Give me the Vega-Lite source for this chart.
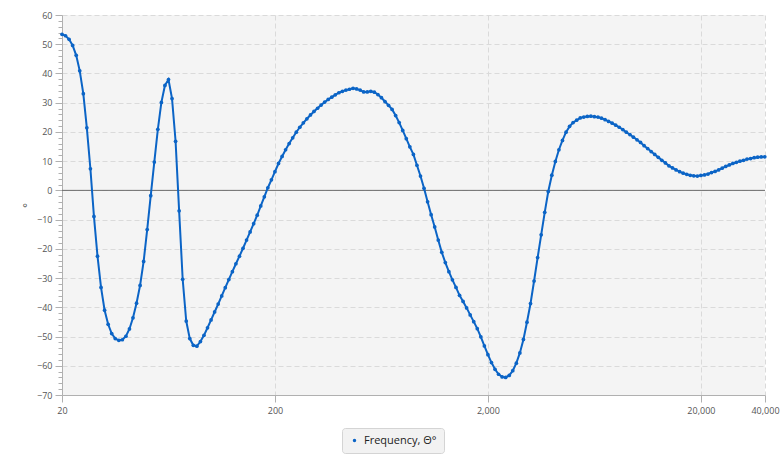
{
  "$schema": "https://vega.github.io/schema/vega-lite/v6.json",
  "width": 703,
  "height": 380,
  "autosize": {"type": "none"},
  "padding": {"left": 62, "top": 15, "right": 15, "bottom": 67},
  "background": "white",
  "config": {
    "view": {"fill": "#f4f4f4", "stroke": null},
    "font": "Open Sans",
    "axis": {
      "labelFont": "Open Sans",
      "labelFontSize": 9,
      "labelColor": "#555555",
      "domainColor": "#b0b0b0",
      "tickColor": "#b0b0b0",
      "gridColor": "#dadada",
      "gridDash": [5, 3]
    }
  },
  "data": {
    "values": [
      {"f": 20, "v": 53.4}, {"f": 20.78, "v": 52.9}, {"f": 21.6, "v": 51.7}, {"f": 22.44, "v": 49.6},
      {"f": 23.32, "v": 46.2}, {"f": 24.23, "v": 40.9}, {"f": 25.18, "v": 33.1}, {"f": 26.16, "v": 21.4},
      {"f": 27.19, "v": 7.4}, {"f": 28.25, "v": -8.9}, {"f": 29.36, "v": -22.5}, {"f": 30.5, "v": -33.2},
      {"f": 31.7, "v": -41.0}, {"f": 32.94, "v": -45.8}, {"f": 34.23, "v": -49.0}, {"f": 35.57, "v": -50.7},
      {"f": 36.96, "v": -51.3}, {"f": 38.4, "v": -51.1}, {"f": 39.91, "v": -49.9}, {"f": 41.47, "v": -47.4},
      {"f": 43.09, "v": -43.6}, {"f": 44.77, "v": -38.6}, {"f": 46.53, "v": -32.5}, {"f": 48.35, "v": -24.3},
      {"f": 50.24, "v": -13.4}, {"f": 52.2, "v": -1.8}, {"f": 54.25, "v": 9.7}, {"f": 56.37, "v": 20.9},
      {"f": 58.57, "v": 30.1}, {"f": 60.86, "v": 35.9}, {"f": 63.25, "v": 37.9}, {"f": 65.72, "v": 31.4},
      {"f": 68.29, "v": 16.8}, {"f": 70.96, "v": -7.0}, {"f": 73.74, "v": -30.4}, {"f": 76.62, "v": -44.7},
      {"f": 79.62, "v": -50.7}, {"f": 82.74, "v": -53.0}, {"f": 85.97, "v": -53.3}, {"f": 89.34, "v": -51.7},
      {"f": 92.83, "v": -49.6}, {"f": 96.46, "v": -47.0}, {"f": 100.24, "v": -44.3}, {"f": 104.16, "v": -41.6},
      {"f": 108.23, "v": -38.9}, {"f": 112.47, "v": -36.1}, {"f": 116.87, "v": -33.3}, {"f": 121.44, "v": -30.5},
      {"f": 126.19, "v": -27.8}, {"f": 131.13, "v": -25.1}, {"f": 136.26, "v": -22.5}, {"f": 141.59, "v": -19.8},
      {"f": 147.13, "v": -17.0}, {"f": 152.89, "v": -14.2}, {"f": 158.87, "v": -11.4}, {"f": 165.08, "v": -8.5},
      {"f": 171.54, "v": -5.3}, {"f": 178.25, "v": -2.2}, {"f": 185.22, "v": 0.9}, {"f": 192.47, "v": 3.6},
      {"f": 200, "v": 6.4}, {"f": 207.8, "v": 9.2}, {"f": 216, "v": 11.6}, {"f": 224.4, "v": 13.9},
      {"f": 233.2, "v": 16.0}, {"f": 242.3, "v": 18.0}, {"f": 251.8, "v": 19.9}, {"f": 261.6, "v": 21.6},
      {"f": 271.9, "v": 23.1}, {"f": 282.5, "v": 24.5}, {"f": 293.6, "v": 25.8}, {"f": 305, "v": 27.0},
      {"f": 317, "v": 28.1}, {"f": 329.4, "v": 29.2}, {"f": 342.3, "v": 30.2}, {"f": 355.7, "v": 31.1},
      {"f": 369.6, "v": 31.9}, {"f": 384, "v": 32.7}, {"f": 399.1, "v": 33.4}, {"f": 414.7, "v": 33.9},
      {"f": 430.9, "v": 34.3}, {"f": 447.7, "v": 34.6}, {"f": 465.3, "v": 34.9}, {"f": 483.5, "v": 34.7},
      {"f": 502.4, "v": 34.3}, {"f": 522, "v": 33.7}, {"f": 542.5, "v": 33.7}, {"f": 563.7, "v": 33.9},
      {"f": 585.7, "v": 33.6}, {"f": 608.6, "v": 32.8}, {"f": 632.5, "v": 31.7}, {"f": 657.2, "v": 30.4},
      {"f": 682.9, "v": 29.1}, {"f": 709.6, "v": 27.7}, {"f": 737.4, "v": 25.6}, {"f": 766.2, "v": 23.2},
      {"f": 796.2, "v": 20.5}, {"f": 827.4, "v": 17.7}, {"f": 859.7, "v": 14.9}, {"f": 893.4, "v": 12.3},
      {"f": 928.3, "v": 8.6}, {"f": 964.6, "v": 4.9}, {"f": 1002.4, "v": 0.7}, {"f": 1041.6, "v": -3.9},
      {"f": 1082.3, "v": -8.3}, {"f": 1124.7, "v": -12.5}, {"f": 1168.7, "v": -17.0}, {"f": 1214.4, "v": -21.2},
      {"f": 1261.9, "v": -24.7}, {"f": 1311.3, "v": -27.8}, {"f": 1362.6, "v": -30.6}, {"f": 1415.9, "v": -33.2},
      {"f": 1471.3, "v": -35.9}, {"f": 1528.9, "v": -38.0}, {"f": 1588.7, "v": -40.2}, {"f": 1650.8, "v": -42.6},
      {"f": 1715.4, "v": -44.9}, {"f": 1782.5, "v": -47.3}, {"f": 1852.2, "v": -50.1}, {"f": 1924.7, "v": -53.2},
      {"f": 2000, "v": -56.2}, {"f": 2078, "v": -58.9}, {"f": 2160, "v": -61.2}, {"f": 2244, "v": -62.9},
      {"f": 2332, "v": -63.8}, {"f": 2423, "v": -64.0}, {"f": 2518, "v": -63.3}, {"f": 2616, "v": -61.7},
      {"f": 2719, "v": -59.1}, {"f": 2825, "v": -55.6}, {"f": 2936, "v": -51.0}, {"f": 3050, "v": -45.1},
      {"f": 3170, "v": -38.7}, {"f": 3294, "v": -31.0}, {"f": 3423, "v": -23.0}, {"f": 3557, "v": -15.2},
      {"f": 3696, "v": -7.5}, {"f": 3840, "v": -0.4}, {"f": 3991, "v": 5.2}, {"f": 4147, "v": 9.9},
      {"f": 4309, "v": 13.9}, {"f": 4477, "v": 17.1}, {"f": 4653, "v": 19.9}, {"f": 4835, "v": 21.9},
      {"f": 5024, "v": 23.2}, {"f": 5220, "v": 24.0}, {"f": 5425, "v": 24.8}, {"f": 5637, "v": 25.1},
      {"f": 5857, "v": 25.3}, {"f": 6086, "v": 25.4}, {"f": 6325, "v": 25.2}, {"f": 6572, "v": 25.1},
      {"f": 6829, "v": 24.7}, {"f": 7096, "v": 24.2}, {"f": 7374, "v": 23.6}, {"f": 7662, "v": 23.0},
      {"f": 7962, "v": 22.3}, {"f": 8274, "v": 21.6}, {"f": 8597, "v": 20.8}, {"f": 8934, "v": 19.9},
      {"f": 9283, "v": 19.1}, {"f": 9646, "v": 18.2}, {"f": 10024, "v": 17.3}, {"f": 10416, "v": 16.4},
      {"f": 10823, "v": 15.3}, {"f": 11247, "v": 14.3}, {"f": 11687, "v": 13.3}, {"f": 12144, "v": 12.3},
      {"f": 12619, "v": 11.3}, {"f": 13113, "v": 10.3}, {"f": 13626, "v": 9.4}, {"f": 14159, "v": 8.4},
      {"f": 14713, "v": 7.7}, {"f": 15289, "v": 7.0}, {"f": 15887, "v": 6.4}, {"f": 16508, "v": 5.9},
      {"f": 17154, "v": 5.5}, {"f": 17825, "v": 5.15}, {"f": 18522, "v": 5.0}, {"f": 19247, "v": 4.9},
      {"f": 20000, "v": 5.1}, {"f": 20782, "v": 5.3}, {"f": 21596, "v": 5.6}, {"f": 22440, "v": 6.1},
      {"f": 23318, "v": 6.5}, {"f": 24230, "v": 7.0}, {"f": 25178, "v": 7.6}, {"f": 26164, "v": 8.2},
      {"f": 27188, "v": 8.7}, {"f": 28250, "v": 9.2}, {"f": 29356, "v": 9.6}, {"f": 30504, "v": 10.0},
      {"f": 31698, "v": 10.3}, {"f": 32938, "v": 10.7}, {"f": 34226, "v": 10.9}, {"f": 35566, "v": 11.2},
      {"f": 36956, "v": 11.35}, {"f": 38402, "v": 11.45}, {"f": 39906, "v": 11.5}
    ]
  },
  "layer": [
    {
      "data": {"values": [{"zero": 0}]},
      "mark": {"type": "rule", "color": "#6b6b6b", "strokeWidth": 1},
      "encoding": {
        "y": {
          "field": "zero",
          "type": "quantitative",
          "scale": {"domain": [-70, 60], "nice": false, "zero": false},
          "axis": {
            "orient": "left",
            "values": [-68, -66, -64, -62, -58, -56, -54, -52, -48, -46, -44, -42, -38, -36, -34, -32, -28, -26, -24, -22, -18, -16, -14, -12, -8, -6, -4, -2, 2, 4, 6, 8, 12, 14, 16, 18, 22, 24, 26, 28, 32, 34, 36, 38, 42, 44, 46, 48, 52, 54, 56, 58],
            "labels": false,
            "tickSize": 4,
            "grid": false,
            "domain": false,
            "title": null
          }
        }
      }
    },
    {
      "mark": {"type": "line", "color": "#0b64c6", "strokeWidth": 2},
      "encoding": {
        "x": {
          "field": "f",
          "type": "quantitative",
          "scale": {"type": "log", "domain": [20, 40000], "nice": false},
          "axis": {
            "values": [20, 200, 2000, 20000, 40000],
            "format": ",",
            "tickSize": 7,
            "labelPadding": 4,
            "labelFlush": false,
            "labelOverlap": false,
            "grid": true,
            "title": null
          }
        },
        "y": {
          "field": "v",
          "type": "quantitative",
          "scale": {"domain": [-70, 60], "nice": false, "zero": false},
          "axis": {
            "orient": "left",
            "values": [-70, -60, -50, -40, -30, -20, -10, 0, 10, 20, 30, 40, 50, 60],
            "tickSize": 7,
            "labelPadding": 3,
            "labelFlush": false,
            "labelOverlap": false,
            "grid": true,
            "title": "°",
            "titleFontSize": 11,
            "titleFontWeight": "normal",
            "titleColor": "#333333"
          }
        }
      }
    },
    {
      "mark": {"type": "point", "filled": true, "size": 14, "opacity": 1},
      "encoding": {
        "x": {"field": "f", "type": "quantitative", "scale": {"type": "log", "domain": [20, 40000], "nice": false}},
        "y": {"field": "v", "type": "quantitative", "scale": {"domain": [-70, 60], "nice": false, "zero": false}, "axis": null},
        "color": {
          "datum": "Frequency, Θ°",
          "type": "nominal",
          "scale": {"range": ["#0b64c6"]},
          "legend": {
            "orient": "none",
            "legendX": 280,
            "legendY": 413,
            "title": null,
            "fillColor": "#f2f2f2",
            "strokeColor": "#d4d4d4",
            "cornerRadius": 3,
            "padding": 7,
            "symbolType": "circle",
            "symbolSize": 12,
            "symbolStrokeWidth": 0,
            "labelFont": "Open Sans",
            "labelFontSize": 11,
            "labelColor": "#222222",
            "labelOffset": 4
          }
        }
      }
    }
  ],
  "resolve": {"axis": {"y": "independent"}}
}
